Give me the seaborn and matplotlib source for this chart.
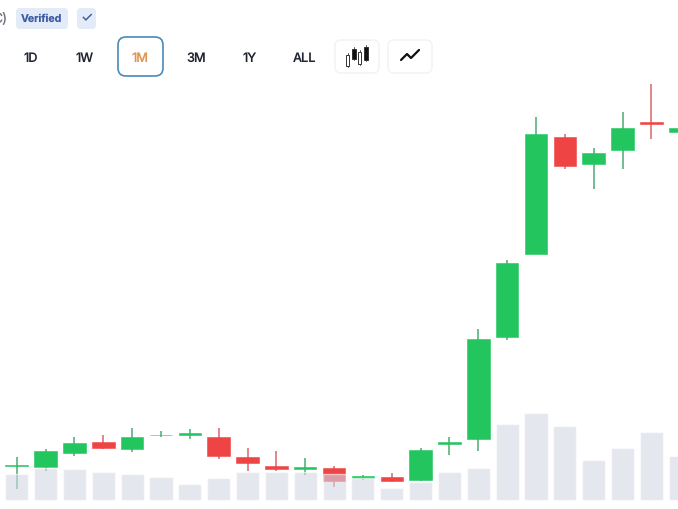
import matplotlib
matplotlib.use("Agg")
import matplotlib.pyplot as plt
import numpy as np
import pandas as pd
import seaborn as sns
from matplotlib.patches import FancyBboxPatch, Rectangle

# candle values
days = list(range(25))
opens = [20, 33.4, 32.8, 46.2, 57.8, 50.2, 64.2, 65, 63, 42.2, 33.8, 31, 31.5, 22, 22.2,
         19.5, 56, 60.2, 162.2, 245.5, 362.8, 335.5, 349.5, 377.8, 367.5]
closes = [34, 34.2, 48.8, 56.8, 51.2, 62.8, 64.8, 66.5, 43.5, 36.2, 30.5, 32.5, 18.5, 23.5, 18.5,
          49.5, 57.5, 160.2, 236.8, 365.5, 333.8, 346.2, 371.5, 375.2, 371.2]
highs = [36, 42.5, 50.5, 62.5, 64.5, 71.8, 68.5, 70.5, 71.5, 51.8, 48.5, 41.5, 33.5, 24.5, 26.5,
         52, 62.8, 170.8, 239.5, 382.8, 365.5, 351.5, 387.8, 415.5, 373]
lows = [15, 10.5, 28.5, 43.5, 50.5, 47.5, 62.5, 60.5, 40.5, 28.5, 28.5, 24.5, 12.5, 20, 17.5,
        18.5, 45, 48.5, 159.5, 245.5, 330.5, 310.5, 330.5, 360.5, 365]
volumes = [29, 25.5, 31.5, 30.5, 27.8, 26, 22.8, 15.5, 21.8, 27.5, 27.5, 27.5, 25.5, 21.5, 11.8,
           18, 27.5, 31.2, 75.2, 86.2, 73.5, 39.5, 51.2, 67.5, 43.5]

ranges = ["1D", "1W", "1M", "3M", "1Y", "ALL"]

GREEN = "#22c55e"
RED = "#ef4444"
GREEN_WICK = "#4fa874"
RED_WICK = "#d9666a"

sns.set_theme(style="white")
plt.rcParams["font.family"] = ["Inter", "DejaVu Sans"]
plt.rcParams["text.hinting"] = "no_hinting"

df = pd.DataFrame({"day": days, "open": opens, "close": closes,
                   "high": highs, "low": lows, "volume": volumes})
df["up"] = df["close"] >= df["open"]

fig = plt.figure(figsize=(6.78, 5.09), dpi=100, facecolor="white")
ax = fig.add_axes([0, 0, 1, 1])

# candles
body_colors = [GREEN if u else RED for u in df["up"]]
wick_colors = [GREEN_WICK if u else RED_WICK for u in df["up"]]
ax.vlines(df["day"], df["low"], df["high"], colors=wick_colors, linewidth=1.1, zorder=2)
ax.bar(df["day"], (df["close"] - df["open"]).abs(), bottom=df[["open", "close"]].min(axis=1),
       width=0.78, color=body_colors, edgecolor=body_colors, linewidth=0.4, zorder=3)

# volume goes on top of the candles, see-through
ax_vol = ax.twinx()
sns.barplot(data=df, x="day", y="volume", native_scale=True, width=0.8, color="#d2d7e4",
            saturation=1, alpha=0.6, ax=ax_vol)

xmin = 0.42
xmax = xmin + 678 / 28.85
for a in (ax, ax_vol):
    a.set_xlim(xmin, xmax)
    a.set_ylim(-9.5, 499.5)
    a.axis("off")

# toolbar above the chart, in pixel coordinates
ui = fig.add_axes([0, 0, 1, 1], facecolor="none")
ui.set_xlim(0, 678)
ui.set_ylim(509, 0)
ui.axis("off")


def rbox(x0, y0, x1, y1, face, edge, lw=1.0, r=4):
    ui.add_patch(FancyBboxPatch((x0 + r, y0 + r), x1 - x0 - 2 * r, y1 - y0 - 2 * r,
                                boxstyle=f"round,pad={r},rounding_size={r}",
                                facecolor=face, edgecolor=edge, linewidth=lw))


ui.text(8, 18, "C)", ha="right", va="center", fontsize=10, color="#6b7280")
rbox(16, 8, 68, 29, "#e3ebf8", "none")
ui.text(42, 18.5, "Verified", ha="center", va="center", fontsize=7.6, fontweight="bold", color="#3b5ba5")
rbox(77, 8, 96, 29, "#e3ebf8", "none")
ui.text(86.5, 18.5, "✓", ha="center", va="center", fontsize=10, color="#3b5ba5")

rbox(118, 37, 163, 76, "white", "#4a8ab8", lw=1.2, r=8)
range_x = [31, 85, 140, 196, 250, 305]
for label, x in zip(ranges, range_x):
    ui.text(x, 61.5, label, ha="center", va="baseline", fontsize=9.2, fontweight="medium",
            color="#e0944f" if label == "1M" else "#1f2430")

rbox(335, 40, 379, 73, "white", "#f2f2f2", r=6)
rbox(388, 40, 432, 73, "white", "#f2f2f2", r=6)

# candle icon
for x0, y0, w, h, filled in [(346, 55, 3, 11, False), (352, 49, 4, 10, True),
                             (358, 52, 3, 12, False), (364, 47, 4, 13, True)]:
    ui.plot([x0 + w / 2, x0 + w / 2], [y0 - 2, y0 + h + 1], color="#333333", linewidth=0.6)
    ui.add_patch(Rectangle((x0, y0), w, h, facecolor="#111111" if filled else "white",
                           edgecolor="#333333", linewidth=0.7, zorder=3))
# line icon
ui.plot([401, 407, 411, 419], [60, 54, 58, 50], color="#111111", linewidth=1.6)

fig.savefig("out.png", dpi=100)
